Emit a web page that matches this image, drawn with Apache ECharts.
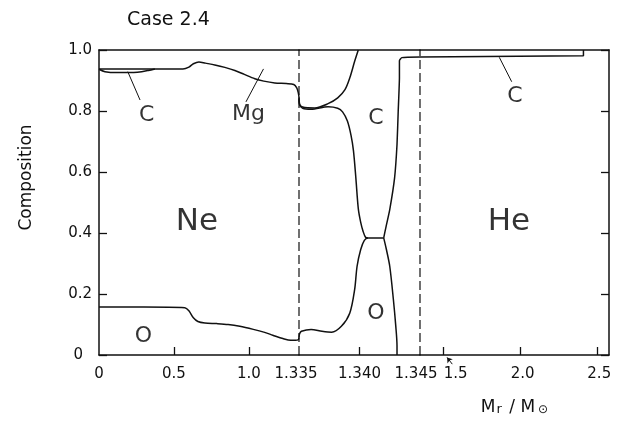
<!DOCTYPE html>
<html>
<head>
<meta charset="utf-8">
<script src="https://cdn.jsdelivr.net/npm/echarts@6/dist/echarts.min.js"></script>
<style>
html,body{margin:0;padding:0;background:#fff;}
#chart{width:618px;height:424px;}
</style>
</head>
<body>
<div id="chart"></div>
<script>
// Abundance boundaries as [Mr/Msun, mass fraction] pairs.
// Inner Ne core, 0 .. 1.335
const oxygenInner = [[0,0.157],[0.3,0.157],[0.573,0.155],[0.6,0.145],[0.63,0.122],[0.66,0.11],[0.707,0.105],[0.785,0.103],[0.862,0.1],[0.94,0.094],[1.03,0.084],[1.1,0.075],[1.16,0.065],[1.227,0.054],[1.28,0.048],[1.31,0.048],[1.33,0.05],[1.335,0.058]];
const neonTopInner = [[0,0.938],[0.2,0.938],[0.4,0.938],[0.56,0.938],[0.6,0.944],[0.63,0.955],[0.667,0.961],[0.71,0.957],[0.773,0.951],[0.84,0.943],[0.907,0.933],[0.97,0.92],[1.04,0.906],[1.1,0.898],[1.173,0.892],[1.25,0.89],[1.3,0.887],[1.32,0.876],[1.33,0.86],[1.335,0.845]];
const carbonLensInner = [[0,0.937],[0.04,0.929],[0.12,0.926],[0.19,0.926],[0.285,0.929],[0.33,0.933],[0.373,0.938]];

// Burning shell, 1.335 .. 1.345
const magnesiumShell = [[1.335,0.845],[1.33505,0.822],[1.3353,0.813],[1.3363,0.81],[1.3374,0.824],[1.3382,0.843],[1.3388,0.87],[1.3392,0.909],[1.3396,0.963],[1.3399,1.0]];
const neonTopShell = [[1.335,0.845],[1.33505,0.82],[1.3353,0.809],[1.336,0.806],[1.3374,0.814],[1.3382,0.809],[1.3386,0.797],[1.339,0.767],[1.3393,0.72],[1.3395,0.67],[1.3397,0.58],[1.3399,0.48],[1.3401,0.435],[1.3403,0.405],[1.3405,0.386],[1.3407,0.384]];
const oxygenShell = [[1.335,0.058],[1.33505,0.07],[1.3352,0.078],[1.336,0.084],[1.3369,0.078],[1.3377,0.075],[1.3385,0.094],[1.3392,0.138],[1.3396,0.215],[1.3398,0.291],[1.3401,0.346],[1.3404,0.376],[1.3407,0.384],[1.342,0.384]];
const oxygenEdgeShell = [[1.342,0.384],[1.3422,0.35],[1.3425,0.291],[1.3428,0.182],[1.343,0.094],[1.3431,0.03],[1.3431,0]];
const heliumTopShell = [[1.342,0.384],[1.3422,0.422],[1.3425,0.477],[1.3429,0.581],[1.3431,0.69],[1.3432,0.8],[1.3433,0.909],[1.3433,0.965],[1.3435,0.975],[1.345,0.977]];

// He envelope, 1.345 .. 2.5
const heliumTopOuter = [[1.345,0.977],[2.413,0.981],[2.413,1.0]];

// Zone boundaries drawn dashed
const zoneBoundaries = [1.335, 1.345];

// Tick values and their printed labels
const yTicks = [0, 0.2, 0.4, 0.6, 0.8, 1.0];
const yTickLabels = ['0', '0.2', '0.4', '0.6', '0.8', '1.0'];
const innerTicks = [0.5, 1.0];
const innerLabelValues = [0, 0.5, 1.0, 1.335];
const innerTickLabels = ['0', '0.5', '1.0', '1.335'];
const shellTicks = [1.340];
const shellLabelValues = [1.340, 1.345];
const shellTickLabels = ['1.340', '1.345'];
const outerTicks = [1.5, 2.0, 2.5];
const outerTickLabels = ['1.5', '2.0', '2.5'];

const FONT = '"DejaVu Sans", "Liberation Sans", sans-serif';
const INK = '#111';

function lookup(values, labels) {
  return function (v) {
    let best = 0;
    for (let i = 1; i < values.length; i++) {
      if (Math.abs(values[i] - v) < Math.abs(values[best] - v)) best = i;
    }
    return labels[best];
  };
}

const grids = [
  { left: 99, top: 50, width: 200, height: 305 },
  { left: 299, top: 50, width: 121, height: 305 },
  { left: 420, top: 50, width: 189, height: 305 }
];
const ranges = [[0, 1.335], [1.335, 1.345], [1.345, 2.58]];

const lineAxis = { lineStyle: { color: INK, width: 1.5 } };
const labelFont = { fontFamily: FONT, fontSize: 15, color: INK };

const innerLabel = lookup(innerLabelValues, innerTickLabels);
const shellLabel = lookup(shellLabelValues, shellTickLabels);
const outerLabel = lookup(outerTicks, outerTickLabels);
const yLabel = lookup(yTicks, yTickLabels);

const xAxes = [
  {
    gridIndex: 0, type: 'value', min: ranges[0][0], max: ranges[0][1],
    axisLine: lineAxis, splitLine: { show: false },
    axisTick: { inside: true, length: 8, customValues: innerTicks, lineStyle: { color: INK, width: 1.3 } },
    axisLabel: Object.assign({ margin: 12, customValues: innerLabelValues,
      formatter: v => { const t = innerLabel(v); return t === '1.335' ? '{l|' + t + '}' : t; },
      rich: { l: Object.assign({ padding: [0, 6, 0, 0] }, labelFont) } }, labelFont)
  },
  {
    gridIndex: 1, type: 'value', min: ranges[1][0], max: ranges[1][1],
    axisLine: lineAxis, splitLine: { show: false },
    axisTick: { inside: true, length: 8, customValues: shellTicks, lineStyle: { color: INK, width: 1.3 } },
    axisLabel: Object.assign({ margin: 12, customValues: shellLabelValues,
      formatter: v => { const t = shellLabel(v); return t === '1.345' ? '{l|' + t + '}' : t; },
      rich: { l: Object.assign({ padding: [0, 8, 0, 0] }, labelFont) } }, labelFont)
  },
  {
    gridIndex: 2, type: 'value', min: ranges[2][0], max: ranges[2][1],
    axisLine: lineAxis, splitLine: { show: false },
    axisTick: { inside: true, length: 8, customValues: outerTicks, lineStyle: { color: INK, width: 1.3 } },
    axisLabel: Object.assign({ margin: 12, customValues: outerTicks,
      formatter: v => { const t = outerLabel(v); return t === '1.5' ? '{f|' + t + '}' : '{n|' + t + '}'; },
      rich: { f: Object.assign({ padding: [0, 0, 0, 24] }, labelFont), n: Object.assign({ padding: [0, 0, 0, 5] }, labelFont) } }, labelFont),
    name: '{m|M}{s|r}{m| / M}{o|\u2299}',
    nameLocation: 'middle', nameGap: 44,
    nameTextStyle: {
      rich: {
        m: { fontFamily: FONT, fontSize: 17, color: INK, lineHeight: 17, verticalAlign: 'top' },
        s: { fontFamily: FONT, fontSize: 13, color: INK, lineHeight: 13, verticalAlign: 'bottom', padding: [13, 2, 0, 1] },
        o: { fontFamily: FONT, fontSize: 12, color: INK, lineHeight: 12, verticalAlign: 'bottom', padding: [14, 0, 0, 3] }
      }
    }
  }
];
// top frame edge for each panel
for (let i = 0; i < 3; i++) {
  xAxes.push({ gridIndex: i, type: 'value', position: 'top', min: ranges[i][0], max: ranges[i][1],
    axisLine: lineAxis, axisTick: { show: false }, axisLabel: { show: false }, splitLine: { show: false } });
}

const yAxes = [
  {
    gridIndex: 0, type: 'value', min: 0, max: 1, interval: 0.2,
    axisLine: lineAxis, splitLine: { show: false },
    axisTick: { inside: true, length: 8, lineStyle: { color: INK, width: 1.3 } },
    axisLabel: Object.assign({ margin: 7,
      formatter: v => { const t = yLabel(v); return t === '0' ? '{z|0}' : t; },
      rich: { z: Object.assign({ padding: [0, 9, 0, 0] }, labelFont) } }, labelFont),
    name: 'Composition', nameLocation: 'middle', nameGap: 64,
    nameTextStyle: { fontFamily: FONT, fontSize: 17, color: INK, padding: [0, 0, 0, 50] }
  },
  { gridIndex: 1, type: 'value', min: 0, max: 1, show: false },
  {
    gridIndex: 2, type: 'value', min: 0, max: 1, interval: 0.2, position: 'right',
    axisLine: lineAxis, splitLine: { show: false },
    axisTick: { inside: true, length: 8, lineStyle: { color: INK, width: 1.3 } },
    axisLabel: { show: false }
  }
];

function curve(data, gi, smooth) {
  return {
    type: 'line', xAxisIndex: gi, yAxisIndex: gi, data: data,
    symbol: 'none', smooth: smooth === undefined ? 0.3 : smooth,
    lineStyle: { color: INK, width: 1.5 }, silent: true, animation: false, z: 3
  };
}

function boundary(x) {
  return {
    type: 'line', xAxisIndex: 1, yAxisIndex: 1, data: [[x, 0], [x, 1]],
    symbol: 'none', clip: false, silent: true, animation: false,
    lineStyle: { color: INK, width: 1.2, type: [9, 4] }
  };
}

// Text annotations and leader lines, placed in data coordinates
function textMarks(gi, items) {
  return {
    type: 'scatter', xAxisIndex: gi, yAxisIndex: gi, symbolSize: 0, silent: true, animation: false,
    data: items.map(it => ({ value: it.at, name: it.text,
      label: { show: true, position: 'inside', formatter: '{b}', fontFamily: FONT, fontSize: it.size, color: '#000' } }))
  };
}
function leader(gi, pts) {
  return { type: 'line', xAxisIndex: gi, yAxisIndex: gi, data: pts, symbol: 'none', silent: true,
    animation: false, lineStyle: { color: INK, width: 1 } };
}

const series = [
  curve(oxygenInner, 0),
  curve(neonTopInner, 0),
  curve(carbonLensInner, 0),
  curve(magnesiumShell, 1),
  curve(neonTopShell, 1),
  curve(oxygenShell, 1),
  curve(oxygenEdgeShell, 1),
  curve(heliumTopShell, 1, 0.15),
  curve(heliumTopOuter, 2, false),
  boundary(zoneBoundaries[0]),
  boundary(zoneBoundaries[1]),
  textMarks(0, [
    { text: 'C', at: [0.318, 0.787], size: 22 },
    { text: 'Mg', at: [0.998, 0.79], size: 22 },
    { text: 'Ne', at: [0.654, 0.436], size: 31 },
    { text: 'O', at: [0.297, 0.062], size: 22 }
  ]),
  textMarks(1, [
    { text: 'C', at: [1.34136, 0.777], size: 22 },
    { text: 'O', at: [1.34136, 0.136], size: 22 }
  ]),
  textMarks(2, [
    { text: 'He', at: [1.9265, 0.436], size: 31 },
    { text: 'C', at: [1.9657, 0.849], size: 22 }
  ]),
  leader(0, [[0.192, 0.929], [0.274, 0.836]]),
  leader(0, [[1.098, 0.938], [0.981, 0.83]]),
  leader(2, [[1.8632, 0.976], [1.9442, 0.896]]),
  {
    type: 'lines', coordinateSystem: 'cartesian2d', xAxisIndex: 2, yAxisIndex: 2, clip: false,
    silent: true, animation: false, symbol: ['none', 'arrow'], symbolSize: 5,
    lineStyle: { color: INK, width: 1, opacity: 1, curveness: 0 },
    data: [{ coords: [[1.556, -0.03], [1.522, -0.008]] }]
  }
];

const chart = echarts.init(document.getElementById('chart'), null, { renderer: 'canvas' });
chart.setOption({
  backgroundColor: '#fff',
  animation: false,
  title: { text: 'Case 2.4', left: 122, top: 6,
    textStyle: { fontFamily: FONT, fontSize: 19, fontWeight: 'normal', color: INK } },
  grid: grids,
  xAxis: xAxes,
  yAxis: yAxes,
  series: series
});
</script>
</body>
</html>
